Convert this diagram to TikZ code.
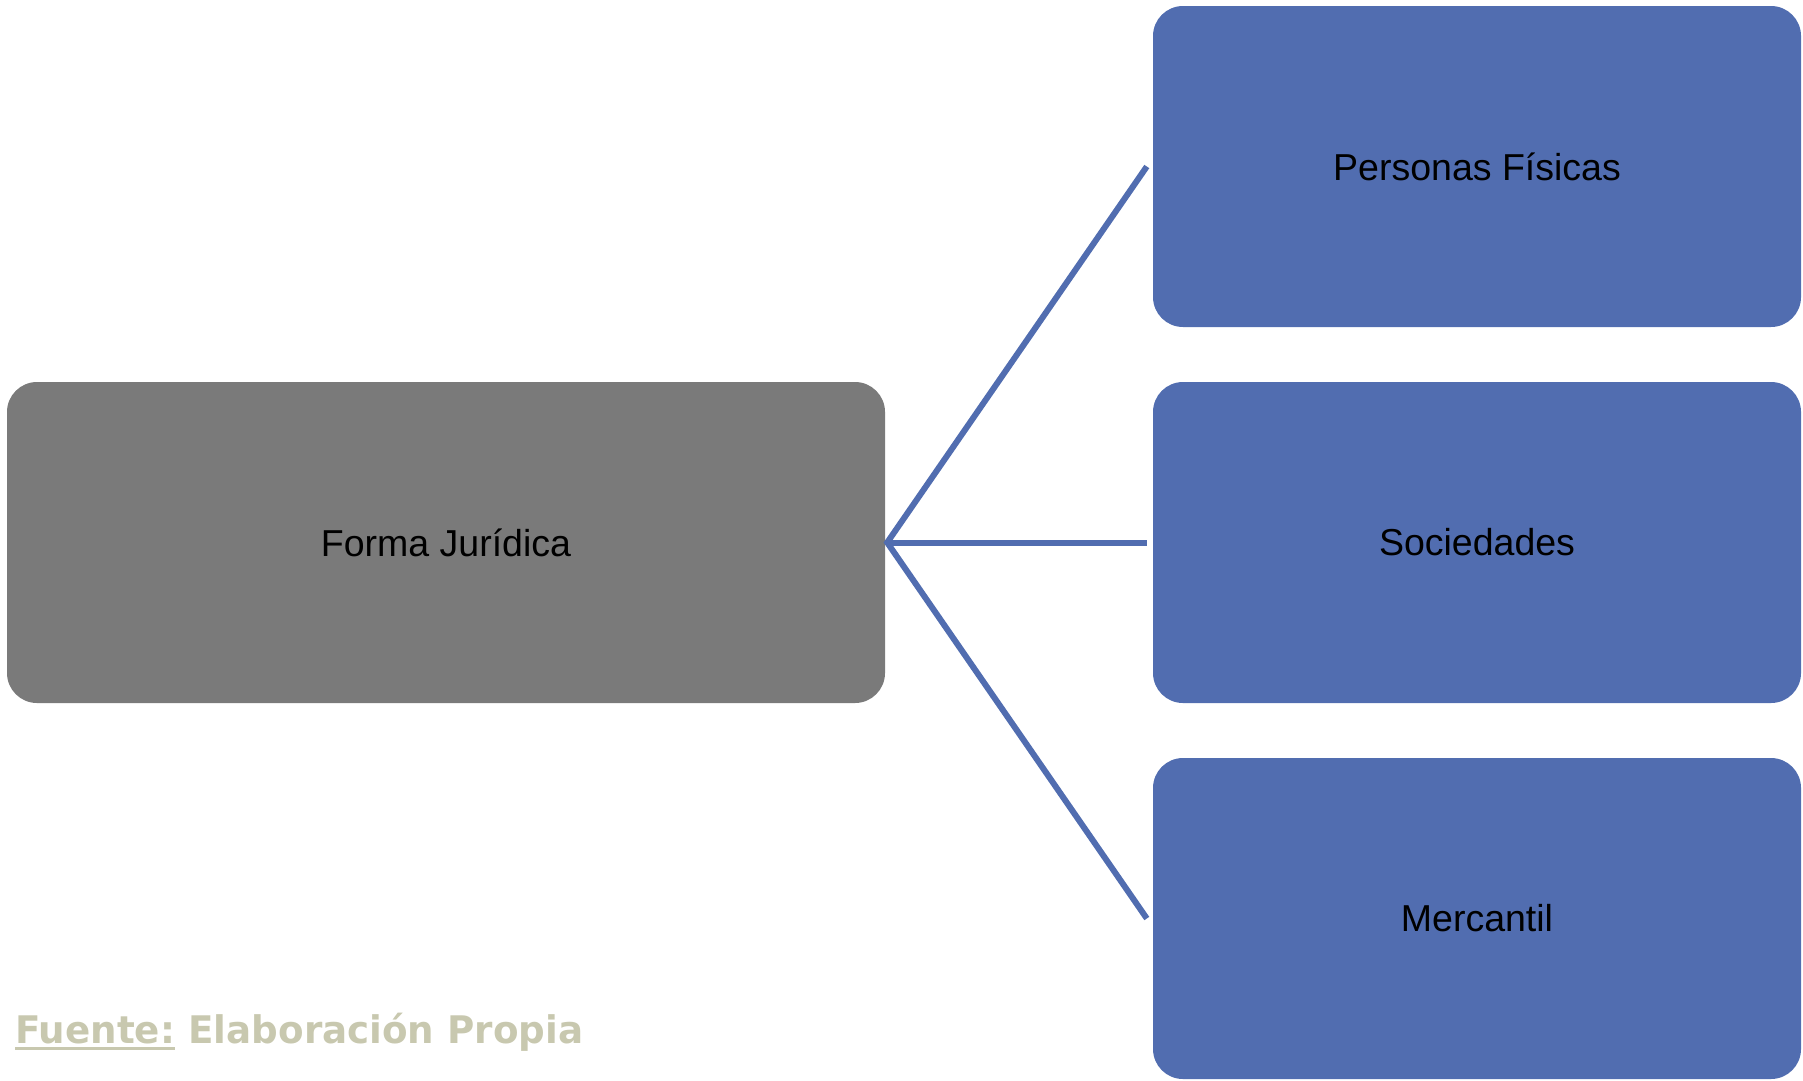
\documentclass[tikz,border=0pt]{standalone}
\usepackage{fontspec}
\setmainfont{Liberation Sans}
\newfontfamily\srcfont{DejaVu Sans}
\usepackage{tikz}
\usetikzlibrary{calc,positioning}
\definecolor{boxblue}{RGB}{81,109,176}
\definecolor{boxgray}{RGB}{122,122,122}
\definecolor{srcgreen}{RGB}{200,200,175}

\begin{document}
\begin{tikzpicture}[x=1pt,y=-1pt]
                      \tikzstyle{root}=[rectangle,rounded corners=30pt,fill=boxgray,minimum width=878pt,minimum height=321pt,inner sep=0pt,font=\fontsize{37.5}{45}\selectfont]
                      \tikzstyle{leaf}=[rectangle,rounded corners=30pt,fill=boxblue,minimum width=648pt,minimum height=321pt,inner sep=0pt,font=\fontsize{37.5}{45}\selectfont]
                      \tikzstyle{link}=[draw=boxblue,line width=6pt]
                      \tikzstyle{source}=[anchor=base west,inner sep=0pt,text=srcgreen,font=\srcfont\bfseries\fontsize{38}{46}\selectfont]
                      \useasboundingbox (0,0) rectangle (1803,1080);
                      \node[root] (forma) at (446,542.5) {Forma Jurídica};
                      \node[leaf] (fisicas) at (1477,166.5) {Personas Físicas};
                      \node[leaf] (sociedades) at (1477,542.5) {Sociedades};
                      \node[leaf] (mercantil) at (1477,918.5) {Mercantil};
                      \coordinate (hub) at ([xshift=2pt]forma.east);
                      \draw[link] ([xshift=-6pt]fisicas.west) -- (hub) -- ([xshift=-6pt]mercantil.west);
                      \draw[link] (hub) -- ([xshift=-6pt]sociedades.west);
                      % fuente
                      \node[source] (fuente) at (15,1043) {\scalebox{0.98}[1]{Fuente:}};
                      \node[source] (elab) at ([xshift=13pt]fuente.base east) {\scalebox{0.98}[1]{Elaboración Propia}};
                      \draw[srcgreen,line width=3pt] ([yshift=-5pt]fuente.base west) -- ([yshift=-5pt]fuente.base east);
                  \end{tikzpicture}
\end{document}
